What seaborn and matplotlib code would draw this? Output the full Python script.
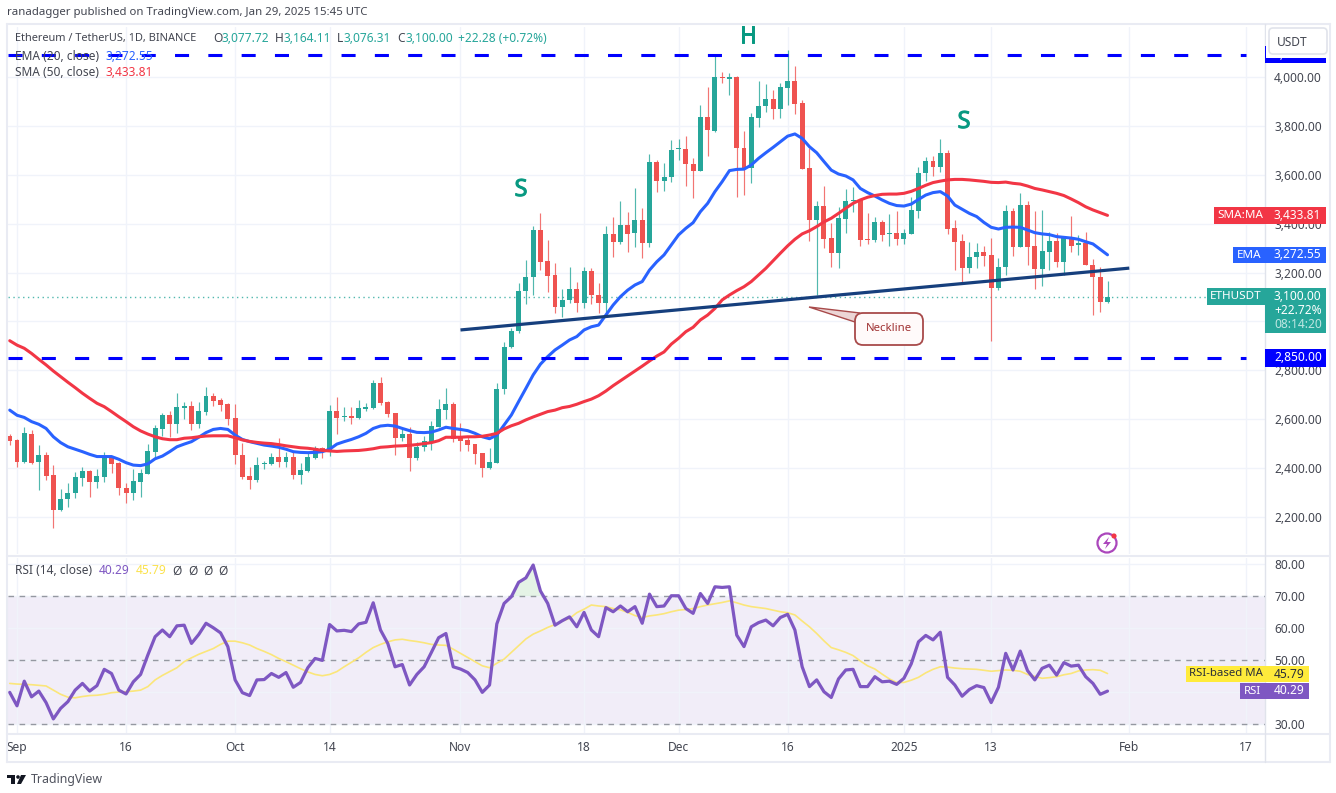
import pandas as pd
import numpy as np
import matplotlib.pyplot as plt
import matplotlib.dates as mdates
import matplotlib.patheffects as pe
from matplotlib.lines import Line2D
from matplotlib.patches import Rectangle, Circle, Polygon, FancyBboxPatch
from matplotlib.transforms import IdentityTransform
import seaborn as sns

sns.set_theme(style="white")
plt.rcParams['font.family'] = ['Noto Sans', 'DejaVu Sans']

# daily ETHUSDT candles, 31 Aug 2024 to 29 Jan 2025
open_px = [2531,2515,2425,2539,2425,2452,2370,2228,2272,2299,
           2359,2389,2343,2365,2444,2419,2320,2299,2343,2376,
           2467,2561,2616,2580,2647,2654,2580,2629,2695,2678,
           2662,2603,2452,2366,2351,2417,2415,2444,2425,2444,
           2371,2388,2440,2481,2467,2632,2609,2613,2605,2643,
           2646,2747,2670,2624,2524,2539,2441,2485,2508,2569,
           2638,2662,2526,2515,2497,2460,2400,2422,2722,2894,
           2959,3126,3183,3374,3246,3188,3060,3088,3134,3074,
           3208,3108,3074,3358,3326,3393,3360,3415,3322,3652,
           3576,3589,3704,3707,3644,3614,3838,3780,3997,3991,
           4001,3710,3626,3831,3881,3909,3869,3954,3985,3892,
           3626,3415,3472,3341,3281,3420,3493,3497,3337,3333,
           3407,3356,3360,3337,3358,3453,3606,3658,3633,3690,
           3381,3328,3218,3265,3283,3270,3135,3224,3450,3306,
           3476,3308,3213,3284,3328,3243,3341,3311,3319,3232,3183,3077.72]
high_px = [2539,2518,2567,2556,2493,2467,2411,2313,2337,2385,
           2403,2392,2395,2467,2447,2426,2337,2395,2395,2498,
           2576,2624,2635,2706,2672,2674,2670,2733,2708,2685,
           2665,2662,2501,2406,2444,2430,2460,2522,2467,2467,
           2422,2467,2492,2485,2658,2692,2651,2651,2678,2667,
           2760,2774,2676,2627,2561,2567,2508,2531,2594,2681,
           2726,2672,2586,2528,2497,2463,2481,2749,2917,2972,
           3158,3251,3390,3442,3333,3240,3131,3221,3163,3224,
           3217,3158,3390,3426,3494,3449,3544,3463,3685,3660,
           3647,3742,3746,3759,3667,3885,3958,4086,4022,4015,
           4004,3780,3851,3985,3971,3947,3977,4110,4045,3906,
           3708,3494,3554,3404,3467,3540,3548,3499,3442,3429,
           3415,3439,3450,3377,3508,3633,3671,3677,3745,3701,
           3415,3358,3325,3320,3309,3340,3258,3476,3463,3524,
           3494,3450,3456,3367,3363,3347,3431,3352,3366,3254,3224,3164.11]
low_px = [2494,2403,2422,2417,2310,2351,2153,2226,2242,2276,
          2327,2280,2317,2343,2378,2290,2256,2269,2280,2376,
          2440,2531,2528,2545,2599,2556,2564,2616,2654,2635,
          2576,2417,2354,2313,2343,2395,2411,2406,2403,2354,
          2335,2385,2436,2440,2449,2539,2594,2580,2602,2635,
          2640,2658,2610,2453,2511,2386,2433,2471,2474,2566,
          2599,2508,2471,2471,2417,2362,2397,2419,2703,2890,
          2954,3071,3108,3210,3122,3033,3017,3074,3040,3053,
          3071,3033,3040,3262,3317,3284,3303,3258,3306,3531,
          3535,3572,3660,3554,3504,3614,3677,3776,3974,3926,
          3510,3519,3565,3797,3858,3827,3831,3885,3849,3622,
          3330,3108,3299,3224,3217,3363,3449,3308,3317,3325,
          3328,3308,3311,3317,3358,3422,3576,3595,3611,3358,
          3210,3161,3197,3218,3227,2921,3129,3190,3268,3303,
          3231,3134,3145,3210,3224,3188,3284,3273,3229,3025,3040,3076.31]
close_px = [2512,2425,2542,2422,2452,2367,2228,2275,2299,2362,
            2389,2343,2366,2447,2417,2318,2299,2346,2378,2468,
            2562,2616,2580,2648,2654,2580,2632,2695,2676,2659,
            2602,2452,2362,2351,2414,2422,2444,2425,2444,2371,
            2391,2444,2481,2467,2632,2605,2613,2606,2644,2651,
            2747,2665,2621,2524,2539,2441,2485,2509,2572,2640,
            2662,2518,2512,2494,2456,2400,2425,2722,2897,2962,
            3126,3183,3374,3244,3187,3060,3088,3134,3077,3208,
            3108,3074,3358,3326,3393,3358,3415,3322,3652,3576,
            3589,3701,3707,3643,3614,3838,3783,3999,3995,4001,
            3708,3625,3835,3883,3909,3869,3958,3985,3890,3625,
            3415,3472,3338,3281,3422,3491,3497,3333,3334,3407,
            3354,3360,3337,3360,3456,3606,3658,3633,3690,3379,
            3326,3218,3265,3284,3268,3137,3224,3450,3306,3476,
            3306,3213,3287,3328,3243,3344,3308,3319,3232,3183,3079,3100]
ema20 = [2637,2616,2607,2590,2579,2562,2528,2504,2487,2477,
         2467,2456,2447,2447,2447,2436,2422,2412,2410,2417,
         2438,2449,2467,2487,2498,2508,2526,2545,2558,2562,
         2558,2535,2517,2508,2501,2494,2490,2485,2477,2467,
         2464,2463,2464,2467,2477,2498,2508,2517,2528,2542,
         2562,2572,2575,2572,2562,2553,2546,2545,2547,2556,
         2567,2562,2558,2553,2542,2528,2520,2535,2576,2617,
         2672,2726,2781,2825,2856,2883,2903,2924,2938,2965,
         2978,2985,3026,3067,3101,3128,3149,3163,3210,3244,
         3272,3313,3354,3381,3404,3449,3483,3531,3572,3617,
         3622,3623,3640,3667,3690,3712,3735,3758,3767,3749,
         3715,3690,3654,3619,3603,3595,3579,3544,3527,3513,
         3497,3483,3474,3472,3480,3499,3517,3527,3531,3513,
         3476,3459,3442,3429,3405,3385,3378,3385,3386,3385,
         3374,3363,3358,3355,3347,3344,3341,3336,3326,3317,3295,3272.55]
sma50 = [2921,2903,2890,2869,2845,2822,2797,2774,2751,2729,
         2706,2685,2665,2651,2631,2610,2590,2569,2552,2539,
         2528,2520,2516,2516,2522,2524,2528,2531,2532,2532,
         2532,2524,2515,2509,2505,2502,2500,2496,2491,2487,
         2483,2481,2477,2472,2470,2468,2470,2471,2472,2475,
         2479,2485,2487,2490,2491,2493,2496,2500,2504,2512,
         2526,2526,2526,2528,2528,2530,2535,2542,2560,2573,
         2583,2597,2609,2620,2631,2637,2647,2652,2661,2672,
         2682,2696,2715,2737,2757,2777,2797,2817,2838,2858,
         2875,2907,2931,2958,2976,3006,3026,3053,3088,3108,
         3126,3142,3163,3190,3217,3248,3279,3309,3336,3358,
         3371,3388,3407,3422,3442,3463,3483,3497,3508,3515,
         3520,3521,3521,3524,3532,3544,3557,3568,3574,3579,
         3581,3581,3579,3576,3573,3569,3568,3570,3565,3562,
         3554,3544,3538,3531,3524,3515,3501,3486,3469,3456,3445,3433.81]
rsi14 = [39.9,35.7,43.4,38.5,40.3,36.7,31.6,34.9,37.0,40.6,
         42.7,40.3,42,47.1,45.8,40.6,39.4,43.2,45.5,51.6,
         57.3,59.4,57.3,60.7,60.9,55.2,58,61.5,60.1,58.5,
         54.2,43.8,39.8,38.9,43.8,43.9,45.8,44.6,46.1,41.5,
         43,47.6,50.5,49.9,61.1,59.1,59.3,58.9,61.3,61.8,
         67.9,59.4,55.2,47.9,48.6,42.2,45.5,47.9,52.4,57,
         58.3,47.9,47.2,46.1,43.8,39.9,42.2,61.3,67.7,69.8,
         74.3,75.7,79.7,71.6,67.7,60.9,62.3,63.5,60.4,64.9,
         59.4,57.3,66.4,65.1,66.9,65.1,66.7,61.5,70.6,66.7,
         66.9,70.1,70.1,66.1,64.6,70.8,67.7,72.9,72.7,72.9,
         57.8,54.2,60.4,61.7,62.5,60.7,63.3,64.3,59.4,47.9,
         41.7,43.8,40.1,38.3,44.1,46.9,47.1,41.7,41.7,44.8,
         43.2,43.4,42.4,44.3,48.8,55.7,57.7,56.3,58.7,44.6,
         42.2,38.7,40.8,42,41.4,36.7,41.5,52.1,46.9,52.8,
         46.7,43.8,47.4,48.4,45.3,49.2,48.1,48.4,44.8,42.7,39.3,40.29]
rsi_ma = [42.7,42.5,42.4,42.3,42.1,41.9,40.6,39.3,38.4,38.2,
          38.6,38.9,39,39.3,39.8,40,40.1,40.3,40.6,41.7,
          43.8,45.2,46.4,47.6,49.5,50.7,51.8,52.7,53.6,54.9,
          55.9,55.9,55.4,54.7,53.6,52.7,51.7,50.5,49.5,48.4,
          47.3,46.3,45.5,45.1,45.5,46.4,47.9,49.3,50.7,52.4,
          53.9,54.9,55.7,56.3,56.5,56.1,55.8,55.4,54.9,54.7,
          54.6,53.4,52.1,50.8,49.5,48.2,47.6,49,50.3,52.4,
          54.5,56.6,58.1,59.1,60.2,61.1,62.2,63,64.8,65.9,
          67.2,66.9,66.7,66.1,65.7,64.9,63.9,63.3,63.8,64.1,
          64.5,65.1,65.6,65.8,66.1,66.7,67.2,67.6,68,68.5,
          67.9,67.2,66.7,66.4,66.1,65.6,65.1,64.8,64.1,62.2,
          60.4,58.3,56,53.9,53.2,52.4,51.4,49.7,48.2,47.2,
          45.6,44.1,43,43,43.7,44.6,46,47.1,47.9,47.8,
          47.5,47.3,47.2,47.1,46.8,46.5,46.7,46.9,46.8,46.5,
          45.5,44.9,44.3,44.5,44.8,45.4,45.8,46.6,46.9,47,46.8,45.79]

price_ticks = [2200, 2400, 2600, 2800, 3000, 3200, 3400, 3600, 3800, 4000]
rsi_ticks = [30, 40, 50, 60, 70, 80]
date_ticks = ['2024-09-01', '2024-09-16', '2024-10-01', '2024-10-14', '2024-11-01', '2024-11-18',
              '2024-12-01', '2024-12-16', '2025-01-01', '2025-01-13', '2025-02-01', '2025-02-17']
date_labels = ['Sep', '16', 'Oct', '14', 'Nov', '18', 'Dec', '16', '2025', '13', 'Feb', '17']

top_level = 4091
support_level = 2850
neck_dates = ['2024-11-01', '2025-02-01']
neck_prices = [2965, 3218]

GREEN = '#26a69a'
RED = '#ef5350'
EMA_BLUE = '#2962ff'
SMA_RED = '#f23645'
PURPLE = '#7e57c2'
GRID = '#f0f3fa'
FRAME = '#e9ebf3'
INK = '#434651'

W, H = 1336, 793
df = pd.DataFrame({'date': pd.date_range('2024-08-31', periods=len(close_px), freq='D'),
                   'open': open_px, 'high': high_px, 'low': low_px, 'close': close_px,
                   'ema': ema20, 'sma': sma50, 'rsi': rsi14, 'rsi_ma': rsi_ma})

fig = plt.figure(figsize=(W / 100, H / 100), dpi=100, facecolor='white')
ax = fig.add_axes([8 / W, 1 - 554 / H, 1257 / W, 527 / H])
ax_rsi = fig.add_axes([8 / W, 1 - 733 / H, 1257 / W, 175 / H])

# one day is 7.27 px, 1 Sep sits 9 px in from the pane edge
x0 = mdates.date2num(pd.Timestamp('2024-09-01'))
xlim = (x0 - 9 / 7.27, x0 + 1248 / 7.27)
x_end = pd.Timestamp('2025-02-17')
x_start = mdates.num2date(xlim[0]).replace(tzinfo=None)

# candles
up = df['close'] >= df['open']
colors = np.where(up, GREEN, RED)
ax.vlines(df['date'], df['low'], df['high'], colors=colors, lw=0.85, alpha=0.8, zorder=2)
body = (df['close'] - df['open']).abs().clip(lower=4)
ax.bar(df['date'], body, bottom=df[['open', 'close']].min(axis=1), width=0.68, color=colors, lw=0, zorder=3)

sns.lineplot(data=df, x='date', y='ema', color=EMA_BLUE, lw=2.2, ax=ax, errorbar=None, zorder=4)
sns.lineplot(data=df, x='date', y='sma', color=SMA_RED, lw=2.2, ax=ax, errorbar=None, zorder=4)

ax.axhline(close_px[-1], color=GREEN, lw=1, ls=(0, (1, 2.5)), alpha=0.8, zorder=1.5)
for level in [top_level, support_level]:
    ax.plot([x_start, x_end], [level, level], color='#0000ff', lw=2.2, ls=(0, (4.6, 6.3)), zorder=5,
            solid_capstyle='butt', dash_capstyle='butt')
ax.plot(pd.to_datetime(neck_dates), neck_prices, color='#163f7d', lw=2.3, zorder=5, solid_capstyle='butt')

ax.set_ylim(2048.3, 4204.6)
ax.set_yticks(price_ticks)
ax.set_yticklabels([f'{p:,.2f}' for p in price_ticks])

# RSI pane
ax_rsi.axhspan(30, 70, color=PURPLE, alpha=0.1, lw=0, zorder=0)
for level in [70, 50, 30]:
    ax_rsi.axhline(level, color='#9598a1', lw=1.0, ls=(0, (4, 4)), zorder=1)
over = (df['rsi'] > 70) & (df['date'] < pd.Timestamp('2024-12-01'))
ax_rsi.fill_between(df['date'], 70, df['rsi'], where=over, interpolate=True, color='#4caf50', alpha=0.14, lw=0)
sns.lineplot(data=df, x='date', y='rsi_ma', color='#fbe67a', lw=1.2, ax=ax_rsi, errorbar=None, zorder=3)
sns.lineplot(data=df, x='date', y='rsi', color=PURPLE, lw=2.3, ax=ax_rsi, errorbar=None, zorder=4)
ax_rsi.set_ylim(27.2, 81.9)
ax_rsi.set_yticks(rsi_ticks)
ax_rsi.set_yticklabels([f'{r:.2f}' for r in rsi_ticks])

tick_dates = pd.to_datetime(date_ticks)
for a in [ax, ax_rsi]:
    a.set_xlim(xlim)
    a.set_xticks(tick_dates)
    a.set(xlabel='', ylabel='')
    a.yaxis.tick_right()
    a.grid(True, color=GRID, lw=1)
    a.set_axisbelow(True)
    a.tick_params(axis='y', length=0, pad=6.5, labelsize=8.6, labelcolor=INK)
    a.tick_params(axis='x', length=0, pad=5.5, labelsize=8.6, labelcolor=INK)
    a.patch.set_alpha(0)
    sns.despine(ax=a, left=True, right=True, top=True, bottom=True)
ax.tick_params(axis='x', labelbottom=False)
ax_rsi.set_xticklabels(date_labels)


def fig_text(x, y, s, color=INK, size=8.6, ha='left', **kw):
    return fig.text(x / W, 1 - y / H, s, color=color, fontsize=size, ha=ha, va='center', zorder=8, **kw)


def fig_line(x1, y1, x2, y2, color=FRAME, lw=1.5):
    fig.add_artist(Line2D([x1 / W, x2 / W], [1 - y1 / H, 1 - y2 / H], color=color, lw=lw, zorder=2))


def box(x1, y1, x2, y2, color, z=6):
    fig.add_artist(Rectangle((x1, H - y2), x2 - x1, y2 - y1, transform=IdentityTransform(),
                             facecolor=color, edgecolor='none', zorder=z))


# pane frame
fig_line(7, 24, 1330, 24)
fig_line(7, 24, 7, 762)
fig_line(7, 762, 1330, 762)
fig_line(1330, 24, 1330, 762)
fig_line(7, 555.5, 1330, 555.5)
fig_line(7, 733.5, 1330, 733.5)
fig_line(1265, 24, 1265, 762, color='#e0e3eb', lw=1)

# header
fig_text(7, 12, 'ranadagger published on TradingView.com, Jan 29, 2025 15:45 UTC', size=8.2)
fig_text(15, 39, 'Ethereum / TetherUS, 1D, BINANCE', size=7.9)
for lx, vx, key, val in [(213, 221, 'O', '3,077.72'), (275, 283, 'H', '3,164.11'),
                         (337, 344, 'L', '3,076.31'), (397, 405, 'C', '3,100.00')]:
    fig_text(lx, 39, key, size=8.6)
    fig_text(vx, 39, val, color=GREEN, size=8.6)
fig_text(458, 39, '+22.28 (+0.72%)', color=GREEN, size=8.6)
fig_text(15, 56, 'EMA (20, close)', size=8.6)
fig_text(105, 56, '3,272.55', color=EMA_BLUE, size=8.6)
fig_text(15, 73, 'SMA (50, close)', size=8.6)
fig_text(105, 73, '3,433.81', color=SMA_RED, size=8.6)
fig_text(15, 571, 'RSI (14, close)', size=8.6)
fig_text(99, 571, '40.29', color=PURPLE, size=8.6)
fig_text(136, 571, '45.79', color='#fbe24c', size=8.6)
for nx in [172, 188, 203, 218]:
    fig_text(nx, 571, 'Ø', size=8.6)

# head and shoulders letters
thick = [pe.withStroke(linewidth=0.7, foreground='#089981')]
fig_text(521, 190, 'S', color='#089981', size=17, ha='center', path_effects=thick)
fig_text(748, 37, 'H', color='#089981', size=17, ha='center', path_effects=thick)
fig_text(964, 122, 'S', color='#089981', size=17, ha='center', path_effects=thick)

# neckline callout
callout = '#a84a4a'
fig.add_artist(Polygon([(809, H - 307), (860, H - 313), (855, H - 322)], closed=True, transform=IdentityTransform(),
                       facecolor='#ecd5d5', edgecolor=callout, lw=1.0, zorder=6))
fig.add_artist(FancyBboxPatch((855, H - 345), 68, 32, boxstyle='round,pad=0,rounding_size=8',
                              mutation_aspect=1, transform=IdentityTransform(),
                              facecolor='#fffafa', edgecolor=callout, lw=1.3, zorder=7))
fig_text(889, 329, 'Neckline', color='#a03232', size=8.2, ha='center')

# price tags
box(1214, 207, 1326, 224, SMA_RED)
fig_text(1240, 215.5, 'SMA:MA', color='white', size=8.4, ha='center')
fig_text(1274, 215.5, '3,433.81', color='white', size=8.6)
box(1233, 247, 1326, 263, EMA_BLUE)
fig_text(1249, 255, 'EMA', color='white', size=8.4, ha='center')
fig_text(1274, 255, '3,272.55', color='white', size=8.6)
box(1207, 288, 1265, 305, GREEN)
box(1265, 288, 1326, 333, GREEN)
fig_text(1236, 296.5, 'ETHUSDT', color='white', size=8.4, ha='center')
fig_text(1274, 296.5, '3,100.00', color='white', size=8.6)
fig_text(1274, 310.5, '+22.72%', color='white', size=8.6)
fig_text(1274, 324.5, '08:14:20', color='#bfe6e2', size=8.6)
box(1265, 349, 1326, 367, '#0000ff')
fig_text(1274, 357.5, '2,850.00', color='white', size=8.6)
box(1265, 46, 1326, 63, '#0000ff')
fig_text(1274, 54.5, f'{top_level:,.2f}', color='white', size=8.6)

# USDT button sits over the blue tag with a white margin
box(1266, 26, 1329, 58, 'white', z=8.5)
fig.add_artist(FancyBboxPatch((1269, H - 54), 58, 26, boxstyle='round,pad=0,rounding_size=4',
                              transform=IdentityTransform(), facecolor='white', edgecolor='#e0e3eb', lw=1.2, zorder=9))
fig.text(1292 / W, 1 - 42 / H, 'USDT', color=INK, fontsize=8.6, ha='center', va='center', zorder=10)

# RSI tags
box(1186, 666, 1265, 682, '#ffeb3b')
box(1265, 666, 1309, 682, '#ffeb3b')
fig_text(1225.5, 674, 'RSI-based MA', color='#2a2e39', size=8.2, ha='center')
fig_text(1274, 674, '45.79', color='#2a2e39', size=8.6)
box(1240, 683, 1309, 699, PURPLE)
fig_text(1252.5, 691, 'RSI', color='white', size=8.2, ha='center')
fig_text(1274, 691, '40.29', color='white', size=8.6)

# lightning badge
fig.add_artist(Circle((1107, H - 543), 9.5, transform=IdentityTransform(), facecolor='white',
                      edgecolor='#ab47bc', lw=1.6, zorder=6))
fig.add_artist(Polygon([(1109, H - 537), (1103, H - 544), (1107, H - 544), (1105, H - 549), (1111, H - 542), (1107, H - 542)],
                       closed=True, transform=IdentityTransform(), facecolor='#ab47bc', edgecolor='none', zorder=7))
fig.add_artist(Circle((1114, H - 536), 2.6, transform=IdentityTransform(), facecolor='#f23645', edgecolor='none', zorder=7))

# TradingView logo
logo = '#131722'
fig.add_artist(Polygon([(7, H - 775), (15, H - 775), (15, H - 784), (11, H - 784), (11, H - 778), (7, H - 778)],
                       closed=True, transform=IdentityTransform(), facecolor=logo, edgecolor='none', zorder=6))
fig.add_artist(Circle((18, H - 777), 1.8, transform=IdentityTransform(), facecolor=logo, edgecolor='none', zorder=6))
fig.add_artist(Polygon([(21, H - 775), (26, H - 775), (21, H - 784), (17, H - 784)],
                       closed=True, transform=IdentityTransform(), facecolor=logo, edgecolor='none', zorder=6))
fig_text(31, 779, 'TradingView', color='#50535e', size=8.9)

fig.savefig('out.png', dpi=100)
